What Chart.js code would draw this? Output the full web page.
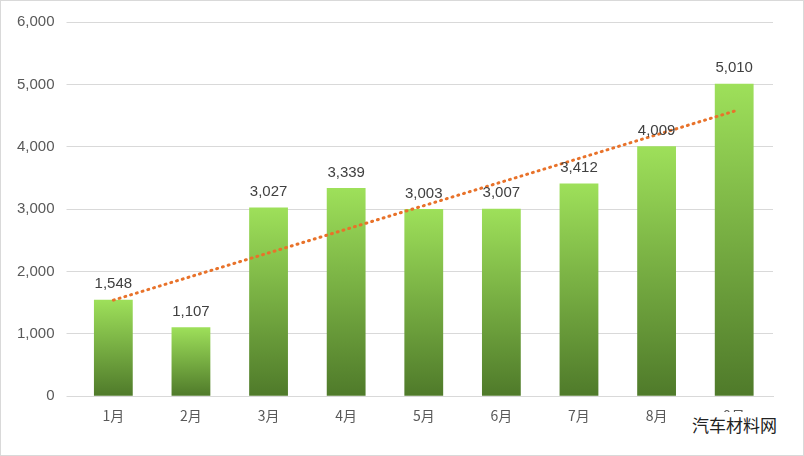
<!DOCTYPE html>
<html><head><meta charset="utf-8">
<script src="https://cdn.jsdelivr.net/npm/chart.js@4"></script>
<style>
body{margin:0;background:#fff;}
#wrap{position:relative;width:804px;height:456px;border:1px solid #d9d9d9;box-sizing:border-box;}
#mark{position:absolute;right:22px;bottom:18px;font:17px "Noto Sans CJK SC";color:#222;background:#fff;padding:0 4px;}
</style></head>
<body>
<div id="wrap"><canvas id="c" width="802" height="454"></canvas><div id="mark">汽车材料网</div></div>
<script>
const months = ["1月","2月","3月","4月","5月","6月","7月","8月","9月"];
const sales = [1548,1107,3027,3339,3003,3007,3412,4009,5010];
// trend line: start and end only
const trend = [1540,null,null,null,null,null,null,null,4570];
const yTicks = [0,1000,2000,3000,4000,5000,6000];

function barFill(ctx) {
  const chart = ctx.chart;
  const y = chart.scales && chart.scales.y;
  if (!y || ctx.raw == null) return "#8cc84b";
  const top = y.getPixelForValue(ctx.raw), bot = y.getPixelForValue(0);
  if (!isFinite(top) || !isFinite(bot) || top === bot) return "#8cc84b";
  const g = chart.ctx.createLinearGradient(0, top, 0, bot);
  g.addColorStop(0, "#9ee05a");
  g.addColorStop(1, "#4f7a2a");
  return g;
}

const labelPlugin = {
  id: "barLabels",
  afterDatasetsDraw(chart) {
    const c = chart.ctx;
    const meta = chart.getDatasetMeta(0);
    c.save();
    c.font = "15px 'Liberation Sans', Arial";
    c.fillStyle = "#404040";
    c.textAlign = "center";
    c.textBaseline = "bottom";
    meta.data.forEach((bar, i) => {
      c.fillText(sales[i].toLocaleString("en-US"), bar.x, bar.y - 8);
    });
    c.restore();
  }
};

new Chart(document.getElementById("c"), {
  type: "bar",
  data: {
    labels: months,
    datasets: [
      {
        data: sales,
        backgroundColor: barFill,
        categoryPercentage: 0.5,
        barPercentage: 1,
        order: 2
      },
      {
        type: "line",
        data: trend,
        spanGaps: true,
        borderColor: "#e8722a",
        borderWidth: 3,
        borderDash: [1, 5],
        borderCapStyle: "round",
        pointRadius: 0,
        fill: false,
        order: 1
      }
    ]
  },
  options: {
    responsive: false,
    animation: false,
    layout: { padding: { left: 4, right: 30, top: 0, bottom: 28 } },
    plugins: { legend: { display: false }, tooltip: { enabled: false } },
    scales: {
      x: {
        grid: { display: false },
        border: { color: "#d9d9d9" },
        ticks: { color: "#595959", font: { size: 14, family: "'Noto Sans CJK SC'" } }
      },
      y: {
        min: 0, max: 6000,
        afterBuildTicks: (ax) => { ax.ticks = yTicks.map(v => ({ value: v })); },
        grid: { color: "#d9d9d9" },
        border: { display: false },
        ticks: {
          color: "#595959",
          font: { size: 15, family: "'Liberation Sans', Arial" },
          padding: 12,
          callback: (v) => Number(v).toLocaleString("en-US")
        }
      }
    }
  },
  plugins: [labelPlugin]
});
</script>
</body></html>
